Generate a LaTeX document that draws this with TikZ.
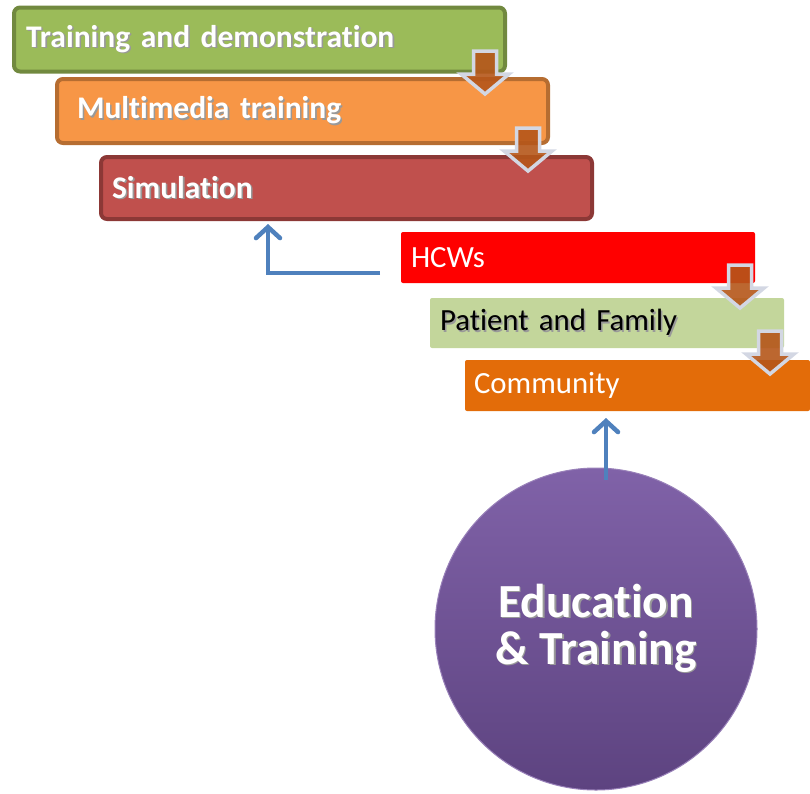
\documentclass[tikz,border=0pt]{standalone}
\usepackage{fontspec}
\setmainfont{Carlito}[Ligatures=NoCommon]
\usetikzlibrary{arrows.meta}
\definecolor{gfill}{HTML}{9BBB59}\definecolor{gline}{HTML}{71893F}
\definecolor{ofill}{HTML}{F79646}\definecolor{oline}{HTML}{B66D31}
\definecolor{rfill}{HTML}{C0504D}\definecolor{rline}{HTML}{8C3836}
\definecolor{hcw}{HTML}{FF0000}
\definecolor{pat}{HTML}{C3D69B}
\definecolor{com}{HTML}{E36C09}
\definecolor{ptop}{HTML}{8062A8}\definecolor{pbot}{HTML}{5D4380}
\definecolor{blu}{HTML}{4F81BD}
\definecolor{brn}{HTML}{B5561A}\definecolor{aline}{HTML}{D3D7E3}
\newcommand\shtxt[1]{\leavevmode\rlap{\hspace{1.6pt}\raisebox{-1.6pt}{\color{black!40}#1}}#1}
\newcommand\downarr[2]{%
  \draw[blockarr] ({#1-11.5},#2) -- ({#1+11.5},#2) -- ({#1+11.5},{#2+23}) -- ({#1+24},{#2+23})
    -- (#1,{#2+43}) -- ({#1-24},{#2+23}) -- ({#1-11.5},{#2+23}) -- cycle;}
\begin{document}
\begin{tikzpicture}[x=1pt,y=-1pt,
  bigbox/.style={rounded corners=6pt, line width=4pt, inner ysep=0pt, minimum height=#1, align=left, text=white,
     font=\bfseries\fontsize{31.5}{36}\selectfont},
  flatbox/.style={rounded corners=2pt, inner ysep=0pt, minimum height=#1, align=left,
     font=\fontsize{30.8}{36}\selectfont},
  blockarr/.style={line width=3.5pt, draw=aline, fill=brn, fill opacity=0.9, line join=miter},
  bluearr/.style={draw=blu, line width=4.5pt, -{Straight Barb[length=11pt,width=24pt,line cap=round]}},
  circ/.style={circle, minimum size=322pt, inner sep=0pt, top color=ptop, bottom color=pbot, draw=ptop!80!white, line width=1pt,
     text=white, align=center, font=\bfseries\fontsize{47.5}{48}\selectfont}
]
\useasboundingbox (0,0) rectangle (810,793);
% top boxes
\node[bigbox=64pt, fill=gfill, draw=gline, inner xsep=12pt, text width=467pt] (t1) at (259.5,39.5) {\shtxt{Training and demonstration}};
\node[bigbox=64pt, fill=ofill, draw=oline, inner xsep=20pt, text width=451pt] (t2) at (302.5,111) {\shtxt{Multimedia training}};
\node[bigbox=62pt, fill=rfill, draw=rline, inner xsep=11pt, text width=469pt] (t3) at (346.5,188) {\shtxt{Simulation}};
% lower boxes
\node[flatbox=51pt, fill=hcw, text=white, inner xsep=10pt, text width=334pt] (b1) at (578,257.5) {HCWs};
\node[flatbox=50pt, fill=pat, text=black, inner xsep=10pt, text width=334pt] (b2) at (607,323) {\shtxt{Patient and Family}};
\node[flatbox=51pt, fill=com, text=white, inner xsep=9pt, text width=327pt] (b3) at (637.5,385.5) {Community};
% circle
\node[circ] (ed) at (596,629) {\shtxt{Education}\\[-1pt]\shtxt{\& Training}};
% block arrows
\downarr{485}{51}
\downarr{528}{128}
\downarr{740}{265}
\downarr{770}{331}
% blue arrows
\coordinate (hcwL) at (380,273);
\coordinate (simIn) at (268,224);
\draw[bluearr] (hcwL) -| (simIn);
\coordinate (edIn) at (606,480);
\coordinate (comIn) at (606,418);
\draw[bluearr] (edIn) -- (comIn);
\end{tikzpicture}
\end{document}
